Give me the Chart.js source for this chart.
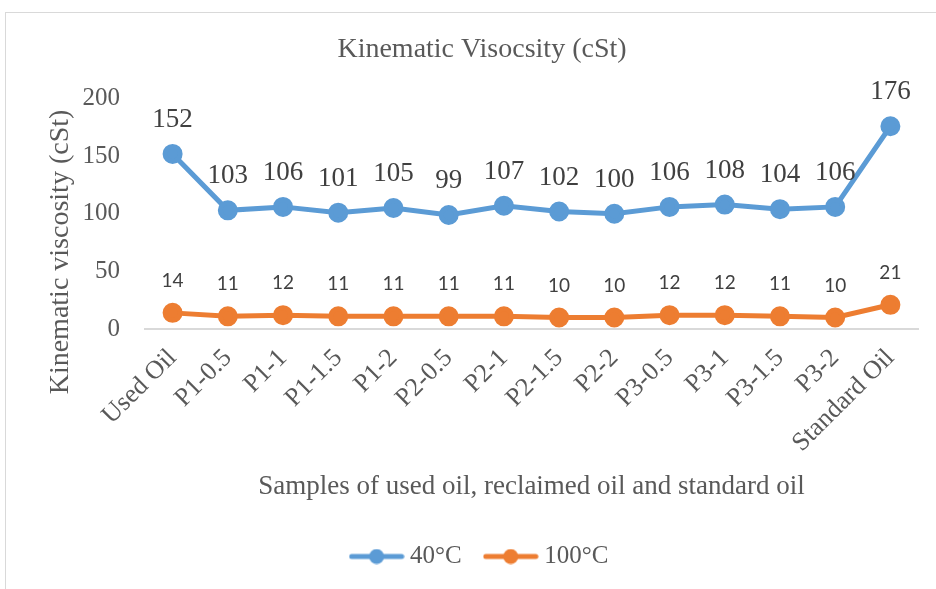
<!DOCTYPE html>
<html>
<head>
<meta charset="utf-8">
<script src="https://cdn.jsdelivr.net/npm/chart.js@4"></script>
<style>
  html, body { margin:0; padding:0; background:#fff; }
  #wrap { width:936px; height:589px; position:relative; }
</style>
</head>
<body>
<div id="wrap"><canvas id="c" width="936" height="589"></canvas></div>
<script>
// samples on the x axis
const samples = ['Used Oil','P1-0.5','P1-1','P1-1.5','P1-2','P2-0.5','P2-1','P2-1.5','P2-2','P3-0.5','P3-1','P3-1.5','P3-2','Standard Oil'];
// viscosity values (cSt)
const visc40 = [152,103,106,101,105,99,107,102,100,106,108,104,106,176];
const visc100 = [14,11,12,11,11,11,11,10,10,12,12,11,10,21];
const yTicks = [0,50,100,150,200];

const BLUE = '#5B9BD5', ORANGE = '#ED7D31', TXT = '#595959';
const SERIF = '"Liberation Serif", "DejaVu Serif", serif';
const PAD_LEFT = 46;

// line+dot marker for the legend
function marker(color) {
  const c = document.createElement('canvas');
  c.width = 56; c.height = 16;
  const g = c.getContext('2d');
  g.strokeStyle = color; g.lineWidth = 5; g.lineCap = 'round';
  g.beginPath(); g.moveTo(3,8); g.lineTo(53,8); g.stroke();
  g.fillStyle = color;
  g.beginPath(); g.arc(28,8,7.5,0,Math.PI*2); g.fill();
  return c;
}

// frame round the chart + y axis title (sits lower than the axis middle)
const frame = {
  id:'frame',
  beforeDraw(chart) {
    const ctx = chart.ctx;
    ctx.save();
    ctx.strokeStyle = '#d9d9d9'; ctx.lineWidth = 1;
    ctx.strokeRect(5.5, 12.5, 960, 600);
    ctx.translate(61, 252);
    ctx.rotate(-Math.PI / 2);
    ctx.fillStyle = TXT;
    ctx.font = '28px ' + SERIF;
    ctx.textAlign = 'center';
    ctx.textBaseline = 'middle';
    ctx.fillText('Kinematic viscosity (cSt)', 0, 0);
    ctx.restore();
  }
};

// value labels above each point
const valueLabels = {
  id:'valueLabels',
  afterDatasetsDraw(chart) {
    const ctx = chart.ctx;
    chart.data.datasets.forEach((ds, i) => {
      const meta = chart.getDatasetMeta(i);
      ctx.save();
      ctx.fillStyle = '#404040';
      ctx.font = ds.labelFont;
      ctx.textAlign = 'center';
      ctx.textBaseline = 'middle';
      meta.data.forEach((pt, j) => {
        ctx.fillText(String(ds.data[j]), pt.x, pt.y - ds.labelOffset);
      });
      ctx.restore();
    });
  }
};

new Chart(document.getElementById('c').getContext('2d'), {
  type:'line',
  data:{
    labels:samples,
    datasets:[
      { label:'40°C', data:visc40, borderColor:BLUE, backgroundColor:BLUE, borderWidth:5,
        pointRadius:7.5, pointHoverRadius:7.5, tension:0,
        labelFont:'27px ' + SERIF, labelOffset:34 },
      { label:'100°C', data:visc100, borderColor:ORANGE, backgroundColor:ORANGE, borderWidth:5,
        pointRadius:7.5, pointHoverRadius:7.5, tension:0,
        labelFont:'19px Lato, "Liberation Sans", sans-serif', labelOffset:32 }
    ]
  },
  options:{
    responsive:false,
    animation:false,
    layout:{ padding:{ left:PAD_LEFT, right:18, top:0, bottom:10 } },
    plugins:{
      title:{ display:true, text:'Kinematic Visocsity (cSt)', color:TXT,
        font:{ family:SERIF, size:28, weight:'normal' }, padding:{ top:33, bottom:32 } },
      legend:{ position:'bottom',
        labels:{ color:TXT, font:{ family:SERIF, size:25 }, usePointStyle:true, pointStyleWidth:42, padding:28,
          generateLabels(chart) {
            return chart.data.datasets.map((ds, i) => ({
              text:ds.label, fontColor:TXT, pointStyle:marker(ds.borderColor),
              datasetIndex:i, hidden:false, lineWidth:0, strokeStyle:'transparent', fillStyle:'transparent'
            }));
          } } },
      tooltip:{ enabled:false }
    },
    scales:{
      x:{
        offset:true,
        afterFit(scale) { scale.height = 187; },
        grid:{ display:false, drawTicks:false },
        border:{ display:true, color:'#d9d9d9', width:2 },
        ticks:{ color:TXT, font:{ family:SERIF, size:26 }, minRotation:45, maxRotation:45, autoSkip:false, padding:14 },
        title:{ display:true, text:'Samples of used oil, reclaimed oil and standard oil', color:TXT,
          font:{ family:SERIF, size:27 }, padding:{ top:10, bottom:13 } }
      },
      y:{
        min:0, max:200,
        afterBuildTicks(scale) { scale.ticks = yTicks.map(v => ({ value:v })); },
        afterFit(scale) { scale.width = 145 - PAD_LEFT; },
        grid:{ display:false, drawTicks:false },
        border:{ display:false },
        ticks:{ color:TXT, font:{ family:SERIF, size:25 }, padding:25 }
      }
    }
  },
  plugins:[frame, valueLabels]
});
</script>
</body>
</html>
